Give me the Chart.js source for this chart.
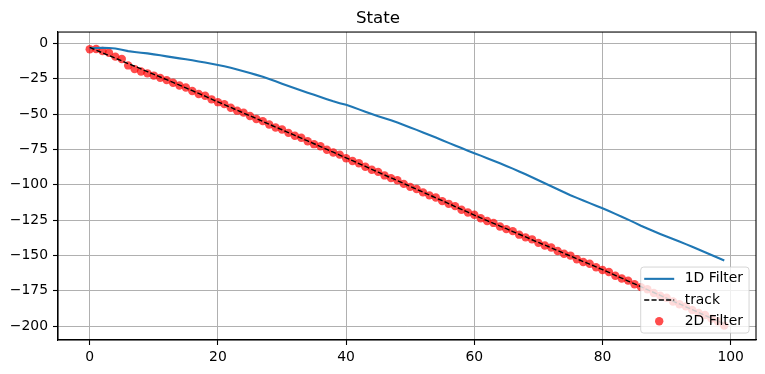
<!DOCTYPE html>
<html>
<head>
<meta charset="utf-8">
<script src="https://cdn.jsdelivr.net/npm/chart.js@4"></script>
<style>
  html, body { margin: 0; padding: 0; background: #fff; }
  canvas { display: block; }
</style>
</head>
<body>
<canvas id="state-chart" width="765" height="374"></canvas>
<script>
const steps = [
  0, 1, 2, 3, 4, 5, 6, 7, 8, 9, 10, 11, 12, 13, 14, 15, 16, 17, 18, 19,
  20, 21, 22, 23, 24, 25, 26, 27, 28, 29, 30, 31, 32, 33, 34, 35, 36, 37, 38, 39,
  40, 41, 42, 43, 44, 45, 46, 47, 48, 49, 50, 51, 52, 53, 54, 55, 56, 57, 58, 59,
  60, 61, 62, 63, 64, 65, 66, 67, 68, 69, 70, 71, 72, 73, 74, 75, 76, 77, 78, 79,
  80, 81, 82, 83, 84, 85, 86, 87, 88, 89, 90, 91, 92, 93, 94, 95, 96, 97, 98, 99
]

const filter1d = [
  -3.5, -3.3, -3.2, -3.3, -3.6, -4.5, -5.5, -6.1, -6.6, -7.1,
  -7.8, -8.4, -9.2, -9.9, -10.6, -11.2, -12.0, -12.8, -13.6, -14.4,
  -15.3, -16.2, -17.3, -18.5, -19.8, -21.0, -22.3, -23.6, -25.2, -26.8,
  -28.5, -30.1, -31.7, -33.3, -34.9, -36.4, -38.0, -39.5, -41.0, -42.3,
  -43.5, -45.0, -46.7, -48.4, -50.0, -51.5, -52.9, -54.4, -56.0, -57.7,
  -59.5, -61.2, -63.0, -64.8, -66.6, -68.5, -70.4, -72.2, -74.0, -75.9,
  -77.7, -79.4, -81.2, -83.0, -84.8, -86.7, -88.6, -90.6, -92.6, -94.7,
  -96.8, -98.9, -101.1, -103.2, -105.3, -107.4, -109.3, -111.2, -113.0, -114.8,
  -116.6, -118.6, -120.6, -122.6, -124.7, -126.8, -129.0, -131.0, -132.9, -134.8,
  -136.6, -138.4, -140.2, -142.0, -143.9, -145.8, -147.7, -149.7, -151.6, -153.6
]

const track = [
  -2.9, -4.8, -6.7, -8.6, -10.5, -12.4, -14.3, -16.2, -18.1, -20.0,
  -21.9, -23.8, -25.7, -27.6, -29.5, -31.5, -33.5, -35.4, -37.4, -39.4,
  -41.4, -43.3, -45.3, -47.3, -49.3, -51.2, -53.2, -55.2, -57.2, -59.2,
  -61.1, -63.1, -65.1, -67.1, -69.0, -71.0, -73.0, -75.0, -77.0, -79.0,
  -81.0, -83.0, -85.0, -87.0, -89.1, -91.1, -93.1, -95.1, -97.1, -99.1,
  -101.2, -103.2, -105.2, -107.2, -109.3, -111.3, -113.3, -115.4, -117.4, -119.4,
  -121.5, -123.4, -125.4, -127.3, -129.2, -131.1, -133.1, -135.0, -136.9, -138.9,
  -140.8, -142.7, -144.6, -146.6, -148.5, -150.4, -152.4, -154.3, -156.2, -158.1,
  -160.0, -162.0, -164.1, -166.1, -168.1, -170.1, -172.1, -174.2, -176.2, -178.2,
  -180.2, -182.3, -184.3, -186.3, -188.3, -190.4, -192.4, -194.4, -196.4, -198.5
]

const filter2d = [
  -4.2, -4.0, -5.4, -6.6, -9.4, -11.1, -15.6, -18.2, -19.9, -21.2,
  -22.8, -24.4, -26.0, -27.9, -29.8, -31.2, -33.7, -35.8, -37.1, -39.6,
  -41.6, -43.0, -45.5, -47.6, -49.0, -51.4, -53.5, -55.0, -57.4, -59.5,
  -60.9, -63.3, -65.4, -66.8, -69.2, -71.3, -72.8, -75.3, -77.2, -78.7,
  -81.3, -83.2, -84.8, -87.3, -89.4, -90.9, -93.4, -95.3, -96.8, -99.4,
  -101.5, -103.0, -105.4, -107.5, -109.0, -111.6, -113.5, -115.1, -117.7, -119.6,
  -121.2, -123.7, -125.6, -127.0, -129.5, -131.4, -132.8, -135.3, -137.2, -138.6,
  -141.1, -143.0, -144.4, -146.9, -148.8, -150.1, -152.7, -154.6, -155.9, -158.4,
  -160.3, -161.7, -164.4, -166.3, -167.8, -170.4, -172.4, -173.9, -176.5, -178.4,
  -179.9, -182.6, -184.5, -186.0, -188.6, -190.6, -192.1, -194.7, -196.6, -199.6
]

const xTicks = [0, 20, 40, 60, 80, 100]
const yTicks = [0, -25, -50, -75, -100, -125, -150, -175, -200]

const FONT = 'DejaVu Sans'
Chart.defaults.font.family = FONT
Chart.defaults.font.size = 13.9
Chart.defaults.color = '#000'

function pts(ys) {
  return steps.map((x, i) => ({x: x, y: ys[i]}))
}

function fmt(v) {
  return v < 0 ? '\u2212' + Math.abs(v) : String(v)
}

// axes frame + legend drawn on top of the data, like matplotlib
const framePlugin = {
  id: 'frameLegend',
  afterDatasetsDraw(chart) {
    const ctx = chart.ctx
    const a = chart.chartArea
    ctx.save()
    ctx.strokeStyle = '#000'
    ctx.lineWidth = 1.1
    ctx.strokeRect(a.left, a.top, a.right - a.left, a.bottom - a.top)

    // legend box, lower right
    const fs = 13.9
    ctx.font = fs + 'px ' + FONT
    const sets = chart.data.datasets
    let tw = 0
    sets.forEach(d => { tw = Math.max(tw, ctx.measureText(d.label).width) })
    const w = 44 + tw + 6
    const rowH = 21.2
    const h = 2 * 11.8 + rowH * (sets.length - 1)
    const x0 = a.right - 0.5 * fs - w
    const y0 = a.bottom - 0.5 * fs - h
    ctx.beginPath()
    ctx.roundRect(x0, y0, w, h, 3)
    ctx.fillStyle = 'rgba(255,255,255,0.8)'
    ctx.fill()
    ctx.strokeStyle = 'rgba(204,204,204,0.8)'
    ctx.lineWidth = 1
    ctx.stroke()

    sets.forEach((d, i) => {
      const cy = y0 + 11.8 + i * rowH
      if (d.showLine) {
        ctx.beginPath()
        ctx.setLineDash(d.borderDash || [])
        ctx.strokeStyle = d.borderColor
        ctx.lineWidth = d.borderWidth
        ctx.moveTo(x0 + 3.5, cy)
        ctx.lineTo(x0 + 33.5, cy)
        ctx.stroke()
        ctx.setLineDash([])
      } else {
        ctx.beginPath()
        ctx.fillStyle = d.backgroundColor
        ctx.arc(x0 + 18.5, cy, d.pointRadius, 0, Math.PI * 2)
        ctx.fill()
      }
      ctx.fillStyle = '#000'
      ctx.textBaseline = 'middle'
      ctx.textAlign = 'left'
      ctx.fillText(d.label, x0 + 44, cy)
    })
    ctx.restore()
  }
}

const config = {
  type: 'scatter',
  data: {
    datasets: [{
      label: '1D Filter',
      data: pts(filter1d),
      showLine: true,
      borderColor: '#1f77b4',
      backgroundColor: '#1f77b4',
      borderWidth: 2.1,
      pointRadius: 0,
      order: 1
    }, {
      label: 'track',
      data: pts(track),
      showLine: true,
      borderColor: '#000',
      backgroundColor: '#000',
      borderWidth: 1.4,
      borderDash: [5.1, 2.2],
      pointRadius: 0,
      order: 0
    }, {
      label: '2D Filter',
      data: pts(filter2d),
      showLine: false,
      backgroundColor: 'rgba(255,0,0,0.7)',
      borderWidth: 0,
      pointRadius: 4.2,
      order: 2
    }]
  },
  options: {
    responsive: false,
    animation: false,
    devicePixelRatio: 1,
    events: [],
    layout: { padding: { left: 0, right: 9, top: 0, bottom: 0 } },
    plugins: {
      legend: { display: false },
      tooltip: { enabled: false },
      title: {
        display: true,
        text: 'State',
        font: { size: 16.7, weight: 'normal' },
        padding: { top: 9, bottom: 3 }
      }
    },
    scales: {
      x: {
        type: 'linear',
        min: -4.95,
        max: 103.95,
        afterBuildTicks: s => { s.ticks = xTicks.map(v => ({value: v})) },
        afterFit: s => { s.height = 34 },
        ticks: { callback: fmt, padding: 4, maxRotation: 0 },
        grid: { color: '#b0b0b0', lineWidth: 1, tickLength: 5, tickColor: '#000', tickWidth: 1.1 },
        border: { color: '#000', width: 1.1 }
      },
      y: {
        type: 'linear',
        min: -209.8,
        max: 8.0,
        afterBuildTicks: s => { s.ticks = yTicks.map(v => ({value: v})) },
        afterFit: s => { s.width = 58 },
        ticks: { callback: fmt, padding: 5 },
        grid: { color: '#b0b0b0', lineWidth: 1, tickLength: 5, tickColor: '#000', tickWidth: 1.1 },
        border: { color: '#000', width: 1.1 }
      }
    }
  },
  plugins: [framePlugin]
}

const state_chart = new Chart(document.getElementById('state-chart').getContext('2d'), config)
</script>
</body>
</html>
